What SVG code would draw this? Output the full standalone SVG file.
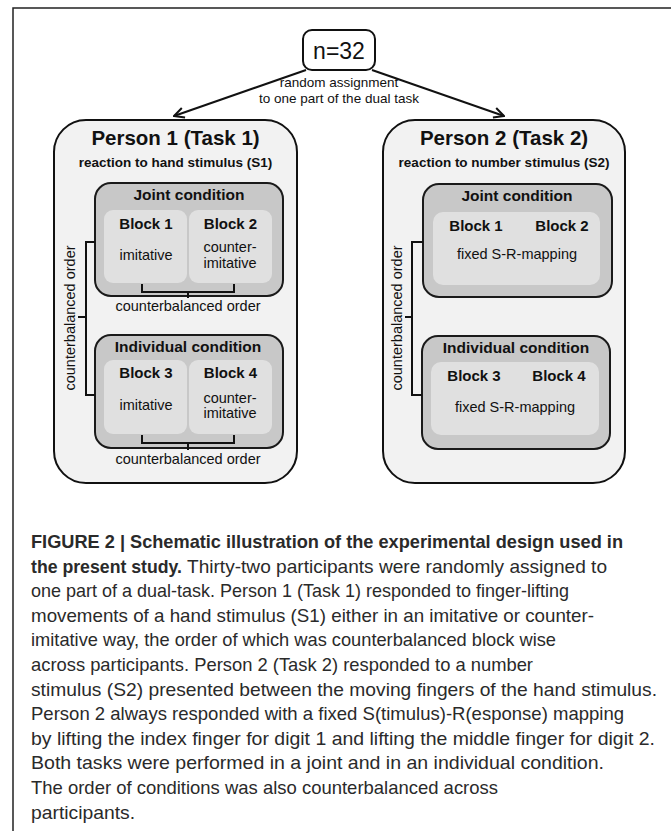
<svg xmlns="http://www.w3.org/2000/svg" width="671" height="831" viewBox="0 0 671 831">
<defs>
<style>
text{font-family:"Liberation Sans",Arial,sans-serif;fill:#111}
.b{font-weight:bold}
.c{text-anchor:middle}
.person{fill:#f2f2f2;stroke:#111;stroke-width:2}
.cond{fill:#c8c8c8;stroke:#1a1a1a;stroke-width:2}
.blk{fill:#e0e0e0;stroke:none}
.br{fill:none;stroke:#111;stroke-width:2}
.cap{font-size:18.5px;fill:#2a2a2a}
</style>
<marker id="ah" viewBox="0 0 12 12" refX="11" refY="6" markerWidth="12" markerHeight="12" markerUnits="userSpaceOnUse" orient="auto">
<path d="M1 1 L11 6 L1 11" fill="none" stroke="#111" stroke-width="2"/>
</marker>
</defs>
<rect width="671" height="831" fill="#fff"/>
<path d="M13 831 V8 H671" fill="none" stroke="#222" stroke-width="1.5"/>

<g id="connectors">
<line x1="306" y1="70" x2="174" y2="116" stroke="#111" stroke-width="2" marker-end="url(#ah)"/>
<line x1="372" y1="70" x2="504" y2="116" stroke="#111" stroke-width="2" marker-end="url(#ah)"/>
<text class="c" x="339" y="87" font-size="13.5">random assignment</text>
<text class="c" x="339" y="103" font-size="13.5">to one part of the dual task</text>
</g>

<g id="n32">
<rect x="303" y="30" width="72" height="40" rx="9" fill="#fff" stroke="#111" stroke-width="2"/>
<text class="c" x="339" y="58.5" font-size="23">n=32</text>
</g>

<g id="person1">
<rect class="person" x="54" y="120" width="243" height="363" rx="32"/>
<text class="b c" x="175.5" y="145" font-size="20.5">Person 1 (Task 1)</text>
<text class="b c" x="175.5" y="167" font-size="13.5">reaction to hand stimulus (S1)</text>
</g>

<g id="p1-joint">
<rect class="cond" x="95" y="183" width="188" height="113" rx="16"/>
<text class="b c" x="189" y="200" font-size="15.5">Joint condition</text>
<rect class="blk" x="104" y="210" width="83" height="73" rx="9"/>
<rect class="blk" x="189" y="210" width="83" height="73" rx="9"/>
<text class="b c" x="146" y="229" font-size="15">Block 1</text>
<text class="b c" x="230.5" y="229" font-size="15">Block 2</text>
<text class="c" x="146" y="260" font-size="14.5">imitative</text>
<text class="c" x="230" y="252" font-size="14.5">counter-</text>
<text class="c" x="230" y="268" font-size="14.5">imitative</text>
<path class="br" d="M142 284 V292 H234 V284 M188 292 V298"/>
<text class="c" x="188" y="311" font-size="14.5">counterbalanced order</text>
</g>

<g id="p1-individual">
<rect class="cond" x="95" y="335" width="188" height="113" rx="16"/>
<text class="b c" x="188" y="352" font-size="15.5">Individual condition</text>
<rect class="blk" x="104" y="360" width="83" height="74" rx="9"/>
<rect class="blk" x="189" y="360" width="83" height="74" rx="9"/>
<text class="b c" x="146" y="378" font-size="15">Block 3</text>
<text class="b c" x="230.5" y="378" font-size="15">Block 4</text>
<text class="c" x="146" y="410" font-size="14.5">imitative</text>
<text class="c" x="230" y="403" font-size="14.5">counter-</text>
<text class="c" x="230" y="418" font-size="14.5">imitative</text>
<path class="br" d="M142 435 V443 H234 V435 M188 443 V450"/>
<text class="c" x="188" y="464" font-size="14.5">counterbalanced order</text>
</g>

<g id="p1-order">
<path class="br" d="M95 242 H86 V395 H95 M86 317 H78"/>
<text class="c" font-size="14.5" transform="translate(75 318) rotate(-90)">counterbalanced order</text>
</g>

<g id="person2">
<rect class="person" x="383" y="120" width="242" height="363" rx="32"/>
<text class="b c" x="504" y="145" font-size="20.5">Person 2 (Task 2)</text>
<text class="b c" x="504" y="167" font-size="13.5">reaction to number stimulus (S2)</text>
</g>

<g id="p2-joint">
<rect class="cond" x="423" y="184" width="189" height="113" rx="16"/>
<text class="b c" x="517" y="201" font-size="15.5">Joint condition</text>
<rect class="blk" x="433" y="212" width="167" height="73" rx="10"/>
<text class="b c" x="476" y="231" font-size="15">Block 1</text>
<text class="b c" x="562" y="231" font-size="15">Block 2</text>
<text class="c" x="517" y="259" font-size="14.5">fixed S-R-mapping</text>
</g>

<g id="p2-individual">
<rect class="cond" x="422" y="336" width="188" height="113" rx="16"/>
<text class="b c" x="516" y="353" font-size="15.5">Individual condition</text>
<rect class="blk" x="431" y="362" width="168" height="73" rx="10"/>
<text class="b c" x="474" y="381" font-size="15">Block 3</text>
<text class="b c" x="559" y="381" font-size="15">Block 4</text>
<text class="c" x="515" y="412" font-size="14.5">fixed S-R-mapping</text>
</g>

<g id="p2-order">
<path class="br" d="M423 242 H412 V395 H422 M412 317 H405"/>
<text class="c" font-size="14.5" transform="translate(402 318) rotate(-90)">counterbalanced order</text>
</g>

<g id="caption">
<text class="cap b" x="31" y="548" textLength="592" lengthAdjust="spacingAndGlyphs">FIGURE 2 | Schematic illustration of the experimental design used in</text>
<text class="cap b" x="31" y="572.6" textLength="151" lengthAdjust="spacingAndGlyphs">the present study.</text>
<text class="cap" x="187" y="572.6" textLength="420" lengthAdjust="spacingAndGlyphs">Thirty-two participants were randomly assigned to</text>
<text class="cap" x="31" y="597.2" textLength="538" lengthAdjust="spacingAndGlyphs">one part of a dual-task. Person 1 (Task 1) responded to finger-lifting</text>
<text class="cap" x="31" y="621.8" textLength="563" lengthAdjust="spacingAndGlyphs">movements of a hand stimulus (S1) either in an imitative or counter-</text>
<text class="cap" x="31" y="646.4" textLength="525" lengthAdjust="spacingAndGlyphs">imitative way, the order of which was counterbalanced block wise</text>
<text class="cap" x="31" y="671" textLength="502" lengthAdjust="spacingAndGlyphs">across participants. Person 2 (Task 2) responded to a number</text>
<text class="cap" x="31" y="695.6" textLength="626" lengthAdjust="spacingAndGlyphs">stimulus (S2) presented between the moving fingers of the hand stimulus.</text>
<text class="cap" x="31" y="720.2" textLength="593" lengthAdjust="spacingAndGlyphs">Person 2 always responded with a fixed S(timulus)-R(esponse) mapping</text>
<text class="cap" x="31" y="744.8" textLength="624" lengthAdjust="spacingAndGlyphs">by lifting the index finger for digit 1 and lifting the middle finger for digit 2.</text>
<text class="cap" x="31" y="769.4" textLength="573" lengthAdjust="spacingAndGlyphs">Both tasks were performed in a joint and in an individual condition.</text>
<text class="cap" x="31" y="794" textLength="467" lengthAdjust="spacingAndGlyphs">The order of conditions was also counterbalanced across</text>
<text class="cap" x="31" y="818.6" textLength="104" lengthAdjust="spacingAndGlyphs">participants.</text>
</g>
</svg>
